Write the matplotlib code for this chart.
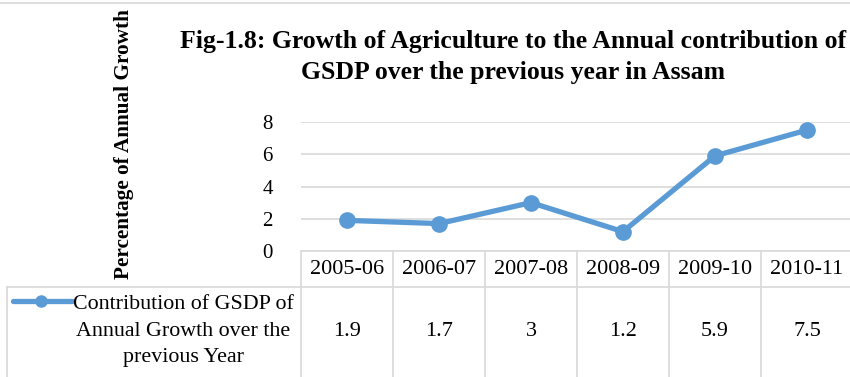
import matplotlib
matplotlib.use('Agg')
import matplotlib.pyplot as plt
from matplotlib.lines import Line2D

years = ['2005-06', '2006-07', '2007-08', '2008-09', '2009-10', '2010-11']
growth = [1.9, 1.7, 3, 1.2, 5.9, 7.5]
yticks = [0, 2, 4, 6, 8]
series_name = 'Contribution of GSDP of\nAnnual Growth over the\nprevious Year'
title = 'Fig-1.8: Growth of Agriculture to the Annual contribution of\nGSDP over the previous year in Assam'
ylabel = 'Percentage of Annual Growth'

W, H = 850, 377
blue = '#5B9BD5'
grid = '#D9D9D9'
serif = ['Liberation Serif', 'DejaVu Serif']
plt.rcParams['font.family'] = serif

fig = plt.figure(figsize=(W / 100, H / 100), dpi=100)

# layout in pixels
left, col_w = 301, 92
top_plot, zero_y = 122, 251
hdr_bot = 287
n = len(years)

def fx(px):
    return px / W

def fy(py):
    return 1 - py / H

ax = fig.add_axes([fx(left), fy(zero_y), fx(col_w * n), (zero_y - top_plot) / H])
ax.plot(range(n), growth, color=blue, lw=3.8, marker='o', ms=11, solid_capstyle='round',
        clip_on=False, zorder=3)
ax.set_xlim(-0.5, n - 0.5)
ax.set_ylim(0, 8)
ax.set_yticks(yticks)
ax.set_yticklabels([str(t) for t in yticks], fontsize=15)
ax.set_xticks([])
ax.tick_params(axis='y', length=0, pad=24)
for t in ax.get_yticklabels():
    t.set_ha('center')
for s in ax.spines.values():
    s.set_visible(False)
ax.grid(axis='y', color=grid, lw=1.2)
ax.set_axisbelow(True)

# data table drawn in a pixel-coordinate overlay
tb = fig.add_axes([0, 0, 1, 1], zorder=5)
tb.set_xlim(0, W)
tb.set_ylim(H, 0)
tb.axis('off')
tb.patch.set_alpha(0)

edges = [left + col_w * i for i in range(n + 1)]
tb.plot([left, edges[-1]], [zero_y, zero_y], color=grid, lw=1.2)
tb.plot([7, edges[-1]], [hdr_bot, hdr_bot], color=grid, lw=1.2)
for e in edges:
    tb.plot([e, e], [zero_y, H], color=grid, lw=1.2)
tb.plot([7, 7], [hdr_bot, H], color=grid, lw=1.2)
tb.plot([0, W], [3, 3], color=grid, lw=1.2)

for i, (yr, v) in enumerate(zip(years, growth)):
    cx = left + col_w * (i + 0.5)
    tb.text(cx, (zero_y + hdr_bot) / 2 + 1, yr, ha='center', va='center', fontsize=16)
    tb.text(cx, 331, f'{v:g}', ha='center', va='center', fontsize=16)

tb.add_line(Line2D([13, 72], [301, 301], color=blue, lw=3.8, solid_capstyle='round'))
tb.plot([41], [301], marker='o', ms=8, color=blue)
tb.text(294, 331, series_name, ha='right', va='center', fontsize=15.8,
        linespacing=1.55, multialignment='center')

fig.text(fx(513), fy(57), title, ha='center', va='center', fontsize=18.5,
         fontweight='bold', linespacing=1.4)
fig.text(fx(124), fy(144), ylabel, ha='center', va='center', rotation=90,
         fontsize=15.3, fontweight='bold')

fig.savefig('out.png', dpi=100)
